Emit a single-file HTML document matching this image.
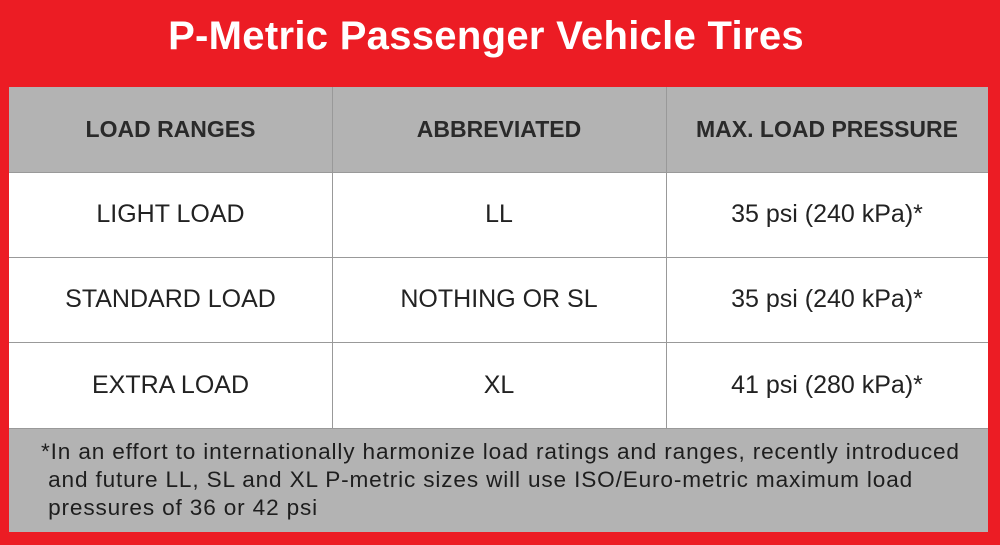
<!DOCTYPE html>
<html><head><style>
body{margin:0;width:1000px;height:545px;background:#ec1c24;position:relative;overflow:hidden;font-family:"Liberation Sans",sans-serif}
.t{position:absolute;left:0;width:972px;top:14px;text-align:center;color:#fff;font-weight:bold;font-size:40px;letter-spacing:0.3px}
.box{position:absolute;left:9px;top:87px;width:979px;height:445px;background:#b3b3b3}
.c{position:absolute;display:flex;align-items:center;justify-content:center;color:#222;font-size:25px}
.h{font-weight:bold;color:#2a2a2a;font-size:23px}
.w{position:absolute;left:0;width:979px;background:#fff}
.hl{position:absolute;left:0;width:979px;height:1px;background:#999}
.vl{position:absolute;width:1px;background:#999;top:0;height:341px}
.f{position:absolute;left:32px;top:351px;font-size:22.6px;line-height:28px;color:#1e1e1e;white-space:nowrap;letter-spacing:0.85px}
</style></head><body>
<div class="t">P-Metric Passenger Vehicle Tires</div>
<div class="box">
<div class="w" style="top:85px;height:256px"></div>
<div class="hl" style="top:85px"></div>
<div class="hl" style="top:170px"></div>
<div class="hl" style="top:255px"></div>
<div class="hl" style="top:341px"></div>
<div class="vl" style="left:323px"></div>
<div class="vl" style="left:657px"></div>
<div class="c h" style="left:0;width:323px;top:0;height:85px">LOAD RANGES</div>
<div class="c h" style="left:323px;width:334px;top:0;height:85px">ABBREVIATED</div>
<div class="c h" style="left:657px;width:322px;top:0;height:85px">MAX. LOAD PRESSURE</div>
<div class="c" style="left:0;width:323px;top:85px;height:85px">LIGHT LOAD</div>
<div class="c" style="left:323px;width:334px;top:85px;height:85px">LL</div>
<div class="c" style="left:657px;width:322px;top:85px;height:85px">35 psi (240 kPa)*</div>
<div class="c" style="left:0;width:323px;top:170px;height:85px">STANDARD LOAD</div>
<div class="c" style="left:323px;width:334px;top:170px;height:85px">NOTHING OR SL</div>
<div class="c" style="left:657px;width:322px;top:170px;height:85px">35 psi (240 kPa)*</div>
<div class="c" style="left:0;width:323px;top:255px;height:86px">EXTRA LOAD</div>
<div class="c" style="left:323px;width:334px;top:255px;height:86px">XL</div>
<div class="c" style="left:657px;width:322px;top:255px;height:86px">41 psi (280 kPa)*</div>
<div class="f">*In an effort to internationally harmonize load ratings and ranges, recently introduced<br>&nbsp;and future LL, SL and XL P-metric sizes will use ISO/Euro-metric maximum load<br>&nbsp;pressures of 36 or 42 psi</div>
</div>
</body></html>
